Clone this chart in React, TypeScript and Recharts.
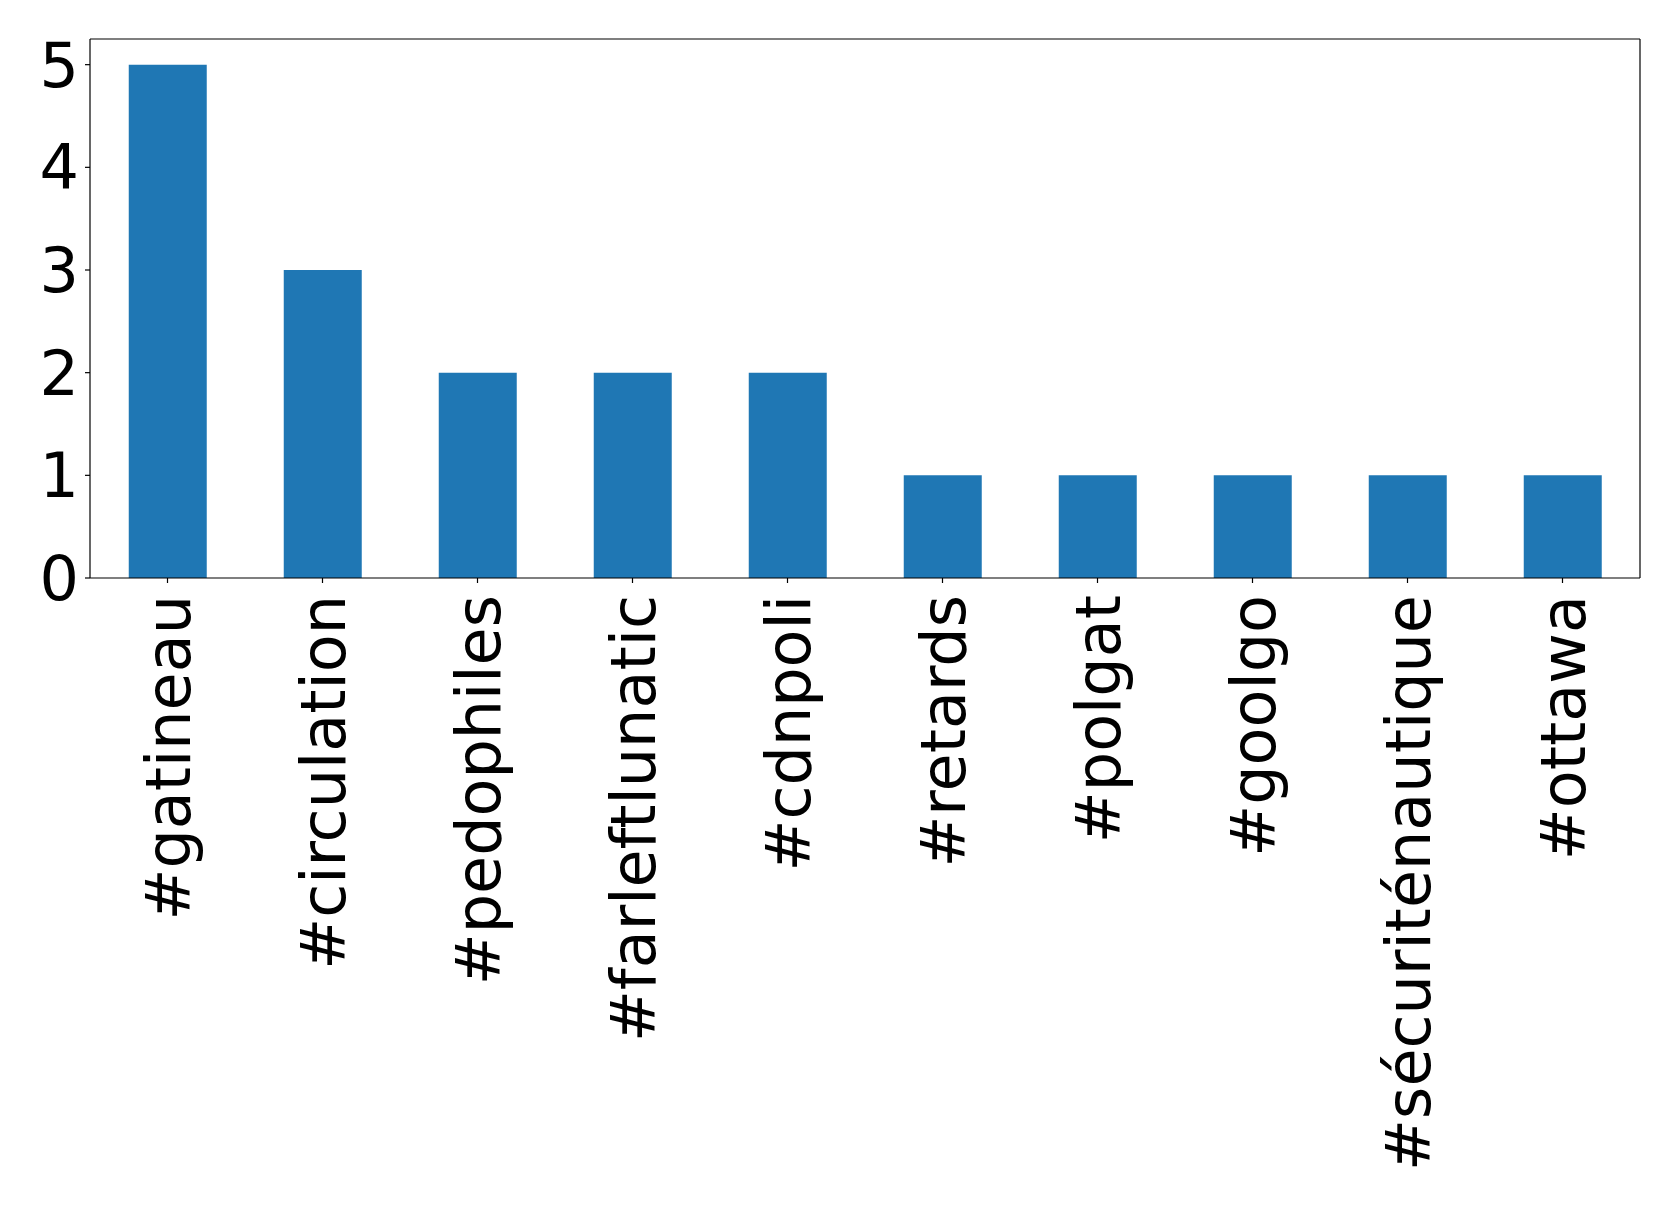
import React from "react";
import { BarChart, Bar, XAxis, YAxis } from "recharts";

const hashtags = [
  "#gatineau",
  "#circulation",
  "#pedophiles",
  "#farleftlunatic",
  "#cdnpoli",
  "#retards",
  "#polgat",
  "#goolgo",
  "#sécuriténautique",
  "#ottawa",
];
const counts = [5, 3, 2, 2, 2, 1, 1, 1, 1, 1];
const yTicks = [0, 1, 2, 3, 4, 5];

const FONT = "DejaVu Sans";

const data = hashtags.map((tag, i) => ({ tag, count: counts[i] }));

// labels turned upright, reading bottom to top, ending just below the tick
const RotatedTick = (props: any) => {
  const { x, y, payload } = props;
  return (
    <g transform={`translate(${x},${y + 10})`}>
      <text
        transform="rotate(-90)"
        textAnchor="end"
        dy="0.36em"
        fontFamily={FONT}
        fontSize={62}
        fill="#000"
      >
        {payload.value}
      </text>
    </g>
  );
};

const line = { stroke: "#000", strokeWidth: 1.2 };

export default function App() {
  return (
    <div style={{ position: "absolute", left: 0, top: 0, background: "#fff" }}>
      <BarChart
        width={1679}
        height={1208}
        data={data}
        margin={{ top: 38, right: 38, left: 0, bottom: 0 }}
        barCategoryGap="25%"
      >
        <XAxis
          dataKey="tag"
          height={630}
          interval={0}
          stroke="#000"
          tick={<RotatedTick />}
          tickSize={5}
          tickLine={line}
          axisLine={line}
        />
        <XAxis
          xAxisId="top"
          dataKey="tag"
          orientation="top"
          height={1}
          stroke="#000"
          tick={false}
          tickLine={false}
          axisLine={line}
        />
        <YAxis
          width={90}
          domain={[0, 5.25]}
          ticks={yTicks}
          allowDataOverflow
          stroke="#000"
          tickSize={5}
          tickMargin={6}
          tick={{ fontFamily: FONT, fontSize: 62, fill: "#000" }}
          tickLine={line}
          axisLine={line}
        />
        <YAxis
          yAxisId="right"
          orientation="right"
          width={1}
          domain={[0, 5.25]}
          stroke="#000"
          tick={false}
          tickLine={false}
          axisLine={line}
        />
        <Bar dataKey="count" fill="#1f77b4" isAnimationActive={false} />
      </BarChart>
    </div>
  );
}
